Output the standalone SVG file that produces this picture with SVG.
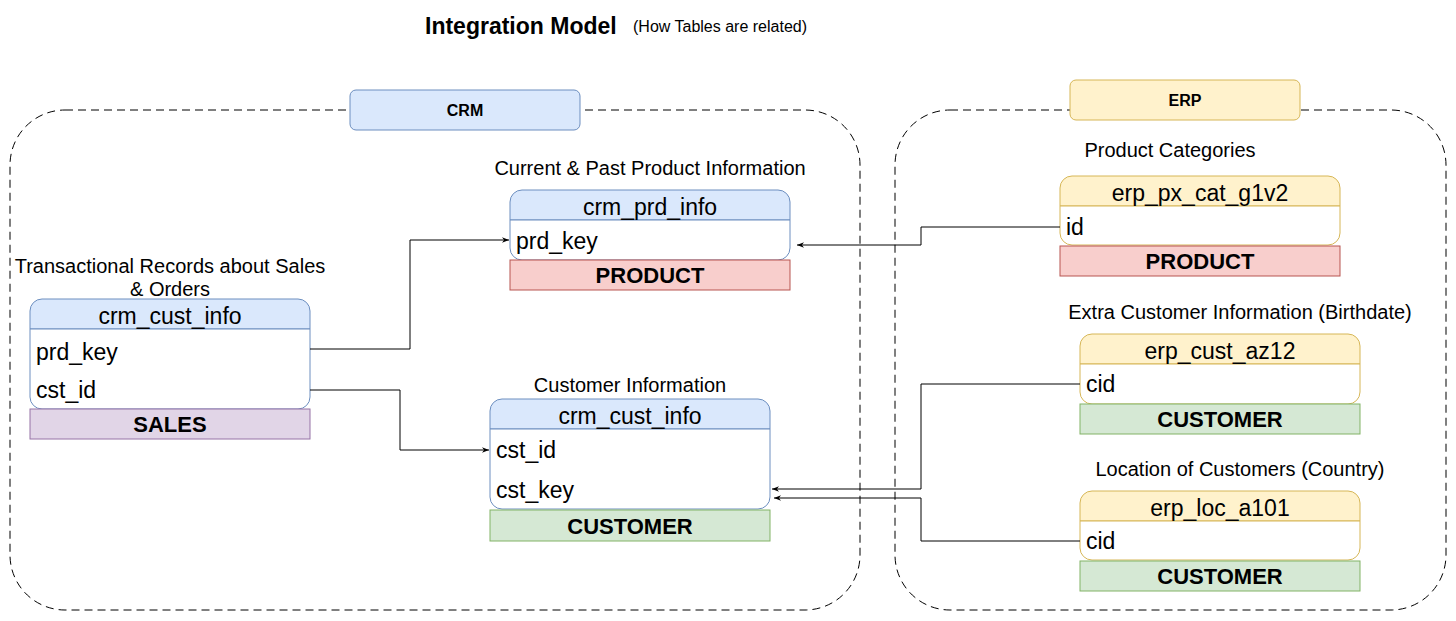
<svg xmlns="http://www.w3.org/2000/svg" width="1456" height="621" viewBox="0 0 1456 621">
<defs>
<style>
text{font-family:"Liberation Sans",Arial,sans-serif;fill:#000}
.cont{fill:none;stroke:#000;stroke-width:1;stroke-dasharray:8 5}
.bh{fill:#dae8fc;stroke:#6c8ebf}
.yh{fill:#fff2cc;stroke:#d6b656}
.red{fill:#f8cecc;stroke:#b85450}
.grn{fill:#d5e8d4;stroke:#82b366}
.pur{fill:#e1d5e7;stroke:#9673a6}
.body{fill:#fff}
.hdr{font-size:23px;text-anchor:middle}
.row{font-size:23px}
.bar{font-size:22px;font-weight:bold;text-anchor:middle}
.cap{font-size:20px;text-anchor:middle}
.lbl{font-size:16px;font-weight:bold;text-anchor:middle}
.conn{fill:none;stroke:#000;stroke-width:1}
</style>
<marker id="arr" viewBox="0 0 10 10" refX="10" refY="5" markerWidth="7" markerHeight="7" orient="auto" markerUnits="userSpaceOnUse">
<path d="M0,1 L10,5 L0,9 L3,5 Z" fill="#000"/>
</marker>
</defs>

<g id="title">
<text x="425" y="34" font-size="23" font-weight="bold">Integration Model</text>
<text x="633" y="32" font-size="16">(How Tables are related)</text>
</g>

<g id="crm-container">
<rect class="cont" x="10" y="110" width="850" height="500" rx="55"/>
<rect class="bh" x="350" y="90" width="230" height="40" rx="6"/>
<text class="lbl" x="465" y="116">CRM</text>
</g>

<g id="erp-container">
<rect class="cont" x="895" y="110" width="551" height="500" rx="55"/>
<rect class="yh" x="1070" y="80" width="230" height="40" rx="6"/>
<text class="lbl" x="1185" y="106">ERP</text>
</g>

<g id="crm_prd_info">
<text class="cap" x="650" y="175">Current &amp; Past Product Information</text>
<path class="bh" d="M510,220 V202 a12,12 0 0 1 12,-12 H778 a12,12 0 0 1 12,12 V220 Z"/>
<path class="bh body" d="M510,220 H790 V248 a12,12 0 0 1 -12,12 H522 a12,12 0 0 1 -12,-12 Z"/>
<text class="hdr" x="650" y="215">crm_prd_info</text>
<text class="row" x="516" y="249">prd_key</text>
<rect class="red" x="510" y="260" width="280" height="30"/>
<text class="bar" x="650" y="283">PRODUCT</text>
</g>

<g id="crm_sales_details">
<text class="cap" x="170" y="273">Transactional Records about Sales</text>
<text class="cap" x="170" y="296">&amp; Orders</text>
<path class="bh" d="M30,329 V311 a12,12 0 0 1 12,-12 H298 a12,12 0 0 1 12,12 V329 Z"/>
<path class="bh body" d="M30,329 H310 V397 a12,12 0 0 1 -12,12 H42 a12,12 0 0 1 -12,-12 Z"/>
<text class="hdr" x="170" y="324">crm_cust_info</text>
<text class="row" x="36" y="360">prd_key</text>
<text class="row" x="36" y="398">cst_id</text>
<rect class="pur" x="30" y="409" width="280" height="30"/>
<text class="bar" x="170" y="432">SALES</text>
</g>

<g id="crm_cust_info">
<text class="cap" x="630" y="392">Customer Information</text>
<path class="bh" d="M490,429 V411 a12,12 0 0 1 12,-12 H758 a12,12 0 0 1 12,12 V429 Z"/>
<path class="bh body" d="M490,429 H770 V497 a12,12 0 0 1 -12,12 H502 a12,12 0 0 1 -12,-12 Z"/>
<text class="hdr" x="630" y="424">crm_cust_info</text>
<text class="row" x="496" y="458">cst_id</text>
<text class="row" x="496" y="498">cst_key</text>
<rect class="grn" x="490" y="510" width="280" height="31"/>
<text class="bar" x="630" y="534">CUSTOMER</text>
</g>

<g id="erp_px_cat_g1v2">
<text class="cap" x="1170" y="157">Product Categories</text>
<path class="yh" d="M1060,206 V188 a12,12 0 0 1 12,-12 H1328 a12,12 0 0 1 12,12 V206 Z"/>
<path class="yh body" d="M1060,206 H1340 V233 a12,12 0 0 1 -12,12 H1072 a12,12 0 0 1 -12,-12 Z"/>
<text class="hdr" x="1200" y="201">erp_px_cat_g1v2</text>
<text class="row" x="1066" y="235">id</text>
<rect class="red" x="1060" y="246" width="280" height="30"/>
<text class="bar" x="1200" y="269">PRODUCT</text>
</g>

<g id="erp_cust_az12">
<text class="cap" x="1240" y="319">Extra Customer Information (Birthdate)</text>
<path class="yh" d="M1080,364 V346 a12,12 0 0 1 12,-12 H1348 a12,12 0 0 1 12,12 V364 Z"/>
<path class="yh body" d="M1080,364 H1360 V392 a12,12 0 0 1 -12,12 H1092 a12,12 0 0 1 -12,-12 Z"/>
<text class="hdr" x="1220" y="359">erp_cust_az12</text>
<text class="row" x="1086" y="392">cid</text>
<rect class="grn" x="1080" y="404" width="280" height="30"/>
<text class="bar" x="1220" y="427">CUSTOMER</text>
</g>

<g id="erp_loc_a101">
<text class="cap" x="1240" y="476">Location of Customers (Country)</text>
<path class="yh" d="M1080,521 V503 a12,12 0 0 1 12,-12 H1348 a12,12 0 0 1 12,12 V521 Z"/>
<path class="yh body" d="M1080,521 H1360 V548 a12,12 0 0 1 -12,12 H1092 a12,12 0 0 1 -12,-12 Z"/>
<text class="hdr" x="1220" y="516">erp_loc_a101</text>
<text class="row" x="1086" y="549">cid</text>
<rect class="grn" x="1080" y="561" width="280" height="30"/>
<text class="bar" x="1220" y="584">CUSTOMER</text>
</g>

<g id="connectors">
<path class="conn" d="M310,349 H410 V240 H509" marker-end="url(#arr)"/>
<path class="conn" d="M310,390 H400 V450 H489" marker-end="url(#arr)"/>
<path class="conn" d="M1060,227 H921 V245 H797" marker-end="url(#arr)"/>
<path class="conn" d="M1080,384 H921 V489 H772" marker-end="url(#arr)"/>
<path class="conn" d="M1080,541 H921 V498 H774" marker-end="url(#arr)"/>
</g>
</svg>
